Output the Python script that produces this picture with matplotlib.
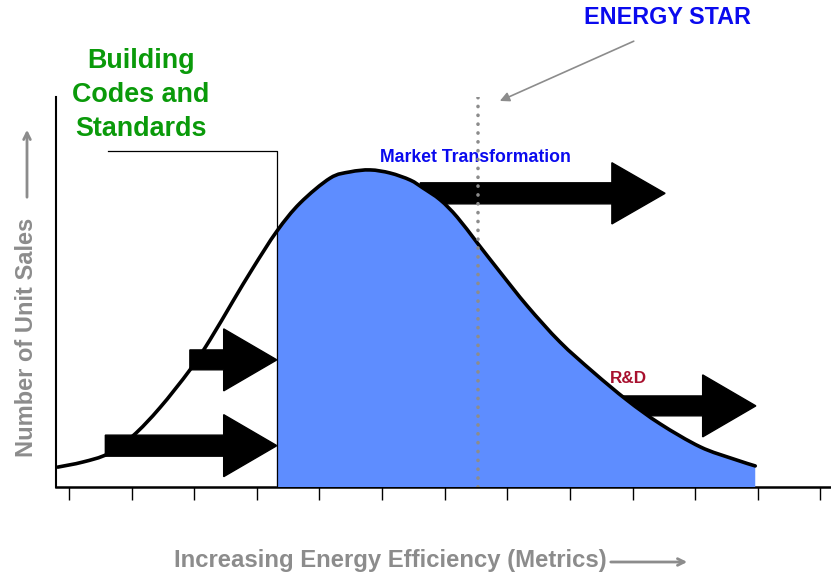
import numpy as np
import matplotlib.pyplot as plt
from matplotlib.path import Path
from matplotlib.patches import PathPatch, FancyArrowPatch

plt.rcParams['font.family'] = ['Liberation Sans', 'DejaVu Sans']

# market curve (x in tick units, y in 0-100 sales units)
curve_x = [-0.18, 0.22, 0.62, 1.02, 1.45, 1.93, 2.25, 2.62, 2.94, 3.32, 3.69, 4.17,
           4.49, 4.81, 5.13, 5.45, 5.65, 5.93, 6.20, 6.52, 6.88, 7.32, 7.84, 8.37,
           8.91, 9.44, 10.08, 10.61, 10.96]
curve_y = [5.1, 6.4, 8.5, 13.1, 20.3, 30.0, 37.7, 47.7, 56.2, 65.6, 72.8, 79.2,
           80.8, 81.3, 80.5, 78.7, 76.7, 73.6, 69.2, 62.6, 55.2, 46.4, 37.2, 29.5,
           22.3, 16.2, 10.3, 7.2, 5.4]
codes_x = 3.32          # minimum standard (building codes)
star_x = 6.53           # ENERGY STAR level
bracket_y = 86.2
tick_pos = list(range(13))

# arrows: (start x, end x, y, shaft width, head width)
arrows = [
    (0.58, 3.32, 10.6, 5.4, 15.9),
    (1.93, 3.32, 32.6, 5.1, 15.9),
    (5.61, 9.52, 75.3, 5.4, 15.7),
    (8.77, 10.97, 20.8, 5.1, 15.9),
]


def smooth_path(xs, ys):
    # Catmull-Rom through the read points, drawn as cubic Bezier pieces
    p = np.column_stack([xs, ys])
    verts = [p[0]]
    codes = [Path.MOVETO]
    n = len(p)
    for i in range(n - 1):
        p0 = p[max(i - 1, 0)]
        p1 = p[i]
        p2 = p[i + 1]
        p3 = p[min(i + 2, n - 1)]
        verts += [p1 + (p2 - p0) / 6, p2 - (p3 - p1) / 6, p2]
        codes += [Path.CURVE4] * 3
    return verts, codes


fig = plt.figure(figsize=(8.31, 5.75), dpi=100)
ax = fig.add_axes([56 / 831, 88 / 575, 775 / 831, 390 / 575])
ax.set_xlim(-0.208, 12.17)
ax.set_ylim(0, 100)

cx = np.array(curve_x)
cy = np.array(curve_y)
i0 = int(np.argmin(np.abs(cx - codes_x)))

fv, fc = smooth_path(cx[i0:], cy[i0:])
fv += [(cx[-1], 0), (cx[i0], 0), (cx[i0], cy[i0])]
fc += [Path.LINETO, Path.LINETO, Path.CLOSEPOLY]
ax.add_patch(PathPatch(Path(fv, fc), facecolor='#5E8DFF', edgecolor='none', zorder=3))

for x0, x1, y, w, hw in arrows:
    ax.arrow(x0, y, x1 - x0, 0, width=w, head_width=hw, head_length=0.85,
             length_includes_head=True, color='black', zorder=2)

lv, lc = smooth_path(cx, cy)
ax.add_patch(PathPatch(Path(lv, lc), facecolor='none', edgecolor='black', lw=2.6,
                       capstyle='round', joinstyle='round', zorder=4))

# bracket for building codes
ax.plot([0.62, codes_x, codes_x], [bracket_y, bracket_y, 0], color='black', lw=0.9, zorder=4)

# energy star line
ax.plot([star_x, star_x], [0, 100], color='#8C8C8C', lw=2.6, zorder=5,
        linestyle=(0, (0.05, 2.4)), dash_capstyle='round')

for s in ['top', 'right']:
    ax.spines[s].set_visible(False)
ax.spines['left'].set_linewidth(1.5)
ax.spines['bottom'].set_linewidth(1.8)
ax.set_xticks(tick_pos)
ax.set_xticklabels([])
ax.set_yticks([])
ax.tick_params(axis='x', direction='out', length=9.5, width=1.0)

ax.text(9.55, 120.5, 'ENERGY STAR', color='#0A0AEE', fontsize=16.8, fontweight='bold',
        ha='center', va='center', clip_on=False)
ax.annotate('', xy=(6.84, 98.7), xytext=(9.06, 114.6), annotation_clip=False,
            arrowprops=dict(arrowstyle='-|>', color='#8C8C8C', lw=1.2, mutation_scale=14))
ax.text(6.49, 84.4, 'Market Transformation', color='#0A0AEE', fontsize=12.7,
        fontweight='bold', ha='center', va='center', clip_on=False)
ax.text(8.93, 27.9, 'R&D', color='#A8102E', fontsize=12.3, fontweight='bold',
        ha='center', va='center')
ax.text(1.15, 100.5, 'Building\nCodes and\nStandards', color='#0A9A0A', fontsize=19.4,
        fontweight='bold', ha='center', va='center', linespacing=1.4, clip_on=False)

fig.text(27 / 831, (575 - 337) / 575, 'Number of Unit Sales', rotation=90, color='#8C8C8C',
         fontsize=17, fontweight='bold', ha='center', va='center')
fig.add_artist(FancyArrowPatch(
    (27 / 831, (575 - 200) / 575), (27 / 831, (575 - 127) / 575), transform=fig.transFigure,
    arrowstyle='->', color='#8C8C8C', lw=2, mutation_scale=12))
fig.text(390 / 831, (575 - 560) / 575, 'Increasing Energy Efficiency (Metrics)',
         color='#8C8C8C', fontsize=17.2, fontweight='bold', ha='center', va='center')
fig.add_artist(FancyArrowPatch(
    (608 / 831, (575 - 562) / 575), (690 / 831, (575 - 562) / 575), transform=fig.transFigure,
    arrowstyle='->', color='#8C8C8C', lw=2, mutation_scale=12))

fig.savefig('out.png', dpi=100)
